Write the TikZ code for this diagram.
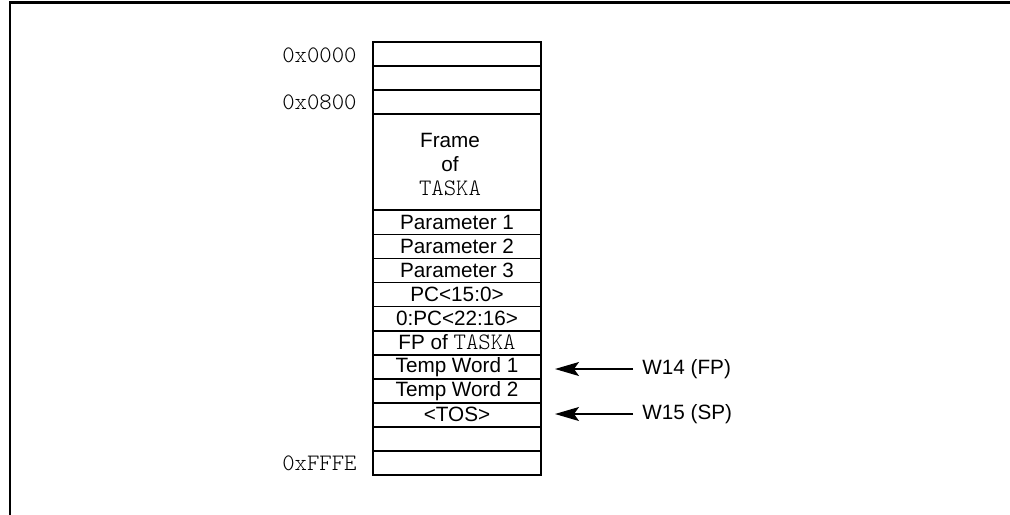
\documentclass[tikz,border=0pt]{standalone}
\usepackage{fontspec}
\setmainfont{Liberation Sans}
\setmonofont{Latin Modern Mono Light}[Scale=1.14]
\usetikzlibrary{arrows.meta}
\tikzset{
  x=0.5pt, y=-0.5pt,
  txt/.style={font=\fontsize{10.35}{12}\selectfont},
  cell/.style={draw, line width=0.9pt, minimum width=84pt, minimum height=12.025pt,
    inner sep=0pt, outer sep=0pt, txt},
  addr/.style={anchor=east, inner sep=0pt, font=\fontsize{10.35}{12}\selectfont\ttfamily},
  ptr/.style={anchor=west, inner sep=0pt, txt},
  arr/.style={line width=0.6pt, -{Stealth[length=12pt, width=7pt, inset=2.5pt]},
    shorten <=4.5pt, shorten >=7pt},
}
\begin{document}
\begin{tikzpicture}
\useasboundingbox (0,0) rectangle (1010,514);
% outer frame (top and left edges)
\coordinate (fa) at (10,2.5);
\coordinate (fb) at (1012,2.5);
\coordinate (fc) at (10,516);
\draw[line width=1.2pt] (fc) -- (fa) -- (fb);

% memory cells
\node[cell] (r0) at (457,54.03) {};
\node[cell] (r1) at (457,78.08) {};
\node[cell] (r2) at (457,102.13) {};
\node[cell, minimum height=48.1pt] (frame) at (457,162.25) {};
\node[txt, align=center, inner sep=0pt] (framelbl) at (450,165) {Frame\\of\\ \texttt{TASKA}};
\node[cell] (p1) at (457,222.38) {Parameter 1};
\node[cell] (p2) at (457,246.43) {Parameter 2};
\node[cell] (p3) at (457,270.48) {Parameter 3};
\node[cell] (pcl) at (457,294.53) {PC<15:0>};
\node[cell] (pch) at (457,318.58) {0:PC<22:16>};
\node[cell] (fp) at (457,342.63) {FP of \texttt{TASKA}};
\node[cell] (tw1) at (457,366.68) {Temp Word 1};
\node[cell] (tw2) at (457,390.73) {Temp Word 2};
\node[cell] (tos) at (457,414.78) {<TOS>};
\node[cell] (r16) at (457,438.83) {};
\node[cell] (r17) at (457,462.88) {};

% addresses
\node[addr] (a0) at (357,55.5) {0x0000};
\node[addr] (a1) at (357,102.5) {0x0800};
\node[addr] (a2) at (357,463) {0xFFFE};

% pointers
\node[ptr] (w14) at (642,369) {W14 (FP)};
\node[ptr] (w15) at (642,414) {W15 (SP)};
\draw[arr] (w14.west) -- (w14.west -| tw1.east);
\draw[arr] (w15.west) -- (w15.west -| tos.east);
\end{tikzpicture}
\end{document}
